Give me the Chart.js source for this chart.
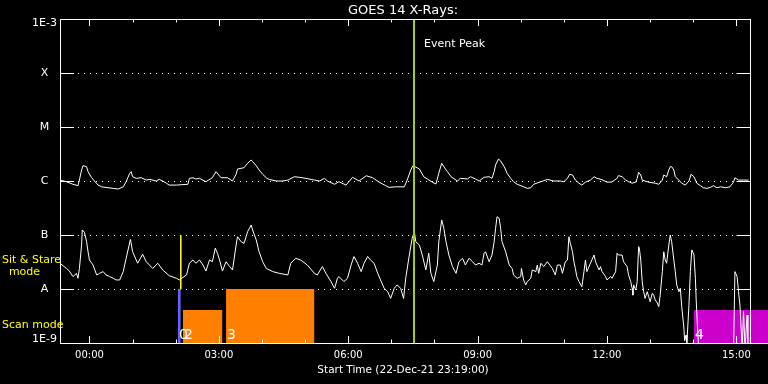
<!DOCTYPE html>
<html>
<head>
<meta charset="utf-8">
<title>GOES 14 X-Rays</title>
<script src="https://cdn.jsdelivr.net/npm/chart.js@4.4.1/dist/chart.umd.min.js"></script>
<style>
  html, body { margin: 0; padding: 0; background: #000; }
  canvas { display: block; }
</style>
</head>
<body>
<canvas id="xrayChart" width="768" height="384"></canvas>
<script>
// time axis is minutes after the start time (22-Dec-21 23:19:00)
const endMinute = 960;
const tickMinutes = [41, 221, 401, 581, 761, 941];
const tickLabels = ["00:00", "03:00", "06:00", "09:00", "12:00", "15:00"];

// flux levels on the left axis
const levelValues = [1e-9, 1e-8, 1e-7, 1e-6, 1e-5, 1e-4, 1e-3];
const levelLabels = ["1E-9", "A", "B", "C", "M", "X", "1E-3"];

// long channel (1-8 A), in units of 1e-6 W/m2 (C class)
const longMinutes = [
  0, 9, 18, 25, 27, 30, 32, 37, 39, 44,
  48, 53, 58, 64, 74, 81, 88, 92, 97, 99,
  101, 106, 113, 120, 125, 134, 138, 143, 148, 152,
  162, 178, 180, 185, 189, 194, 203, 212, 217, 224,
  233, 240, 245, 247, 256, 261, 266, 268, 273, 277,
  282, 287, 291, 301, 310, 317, 326, 333, 342, 354,
  361, 368, 372, 382, 388, 398, 402, 407, 416, 426,
  435, 444, 453, 458, 467, 479, 483, 488, 491, 500,
  506, 511, 518, 523, 527, 531, 534, 539, 544, 553,
  557, 567, 571, 578, 583, 590, 597, 601, 604, 606,
  610, 613, 618, 622, 627, 631, 636, 645, 650, 655,
  659, 669, 678, 687, 696, 701, 706, 709, 713, 717,
  722, 726, 731, 738, 743, 747, 754, 761, 768, 775,
  777, 782, 787, 791, 796, 801, 803, 805, 808, 810,
  819, 828, 833, 838, 840, 844, 847, 849, 851, 854,
  856, 861, 865, 870, 875, 878, 882, 886, 891, 895,
  900, 905, 909, 914, 919, 926, 932, 937, 939, 944,
  951, 958
];
const longFlux = [
  1.04, 0.97, 0.87, 0.82, 1.04, 1.60, 1.92, 1.84, 1.49, 1.15,
  1.00, 0.84, 0.78, 0.76, 0.73, 0.71, 0.78, 0.97, 1.39, 1.49,
  1.20, 1.12, 1.15, 1.04, 1.07, 1.00, 1.07, 1.00, 0.91, 0.84,
  0.84, 0.87, 1.12, 1.15, 1.09, 1.12, 0.97, 1.15, 1.49, 1.15,
  1.15, 1.00, 1.33, 1.67, 1.76, 2.13, 2.45, 2.28, 1.92, 1.60,
  1.33, 1.15, 1.07, 1.00, 1.00, 1.04, 1.20, 1.17, 1.12, 1.04,
  1.00, 1.12, 1.00, 0.87, 0.97, 0.84, 0.97, 1.17, 1.00, 1.25,
  1.15, 0.95, 0.82, 0.76, 0.78, 0.78, 1.04, 1.60, 1.92, 1.67,
  1.20, 1.09, 0.95, 0.88, 1.39, 2.13, 1.84, 1.49, 1.20, 1.00,
  1.12, 1.09, 1.20, 1.09, 1.00, 1.17, 1.20, 1.12, 1.49, 1.98,
  2.55, 2.35, 1.84, 1.39, 1.12, 0.97, 0.87, 0.78, 0.73, 0.75,
  0.87, 0.97, 1.07, 1.00, 1.00, 0.97, 1.12, 1.33, 1.29, 1.04,
  0.91, 0.84, 0.95, 1.04, 1.20, 1.12, 1.06, 0.95, 0.96, 1.12,
  1.26, 1.20, 1.04, 0.97, 0.91, 0.95, 1.12, 1.45, 1.29, 1.04,
  0.95, 0.91, 0.87, 1.04, 1.29, 1.20, 1.60, 1.84, 1.84, 1.60,
  1.20, 1.04, 0.91, 0.84, 1.00, 1.33, 1.20, 0.91, 0.82, 0.75,
  0.73, 0.76, 0.82, 0.75, 0.78, 0.75, 0.78, 0.95, 1.15, 1.04,
  1.04, 1.04
];

// short channel (0.5-4 A), in units of 1e-7 W/m2 (B class)
const shortMinutes = [
  0, 9, 13, 18, 23, 25, 27, 30, 31, 34,
  37, 39, 41, 46, 51, 55, 60, 64, 69, 74,
  78, 83, 88, 92, 98, 101, 108, 115, 120, 129,
  136, 143, 152, 162, 166, 176, 180, 185, 189, 194,
  199, 203, 208, 212, 216, 219, 222, 226, 231, 236,
  240, 245, 247, 252, 256, 261, 266, 268, 273, 277,
  282, 287, 296, 305, 317, 321, 328, 335, 344, 354,
  358, 365, 370, 377, 382, 386, 388, 395, 400, 405,
  409, 414, 419, 423, 428, 432, 437, 442, 446, 451,
  456, 460, 465, 469, 474, 478, 481, 486, 490, 493,
  495, 500, 504, 509, 513, 516, 520, 525, 527, 531,
  534, 537, 541, 546, 551, 555, 560, 564, 569, 574,
  578, 583, 587, 590, 592, 597, 601, 604, 606, 608,
  611, 613, 615, 620, 625, 629, 631, 636, 641, 642,
  645, 648, 650, 655, 657, 662, 664, 666, 669, 673,
  678, 685, 689, 692, 696, 699, 703, 706, 708, 710,
  713, 715, 717, 719, 722, 726, 729, 731, 733, 738,
  743, 745, 750, 752, 754, 759, 761, 766, 768, 773,
  775, 777, 782, 784, 789, 791, 794, 796, 797, 798,
  801, 803, 805, 806, 808, 810, 812, 814, 817, 819,
  821, 824, 826, 828, 831, 833, 835, 838, 840, 842,
  844, 847, 849, 851, 854, 856, 858, 861, 863, 865,
  868, 869, 871, 872, 875, 877, 879, 882, 884, 885,
  887, 889, 910, 937, 939, 942, 944, 946, 949, 951,
  953, 956, 957
];
const shortFlux = [
  0.30, 0.24, 0.215, 0.17, 0.195, 0.158, 0.24, 0.65, 1.24, 1.12,
  0.75, 0.49, 0.344, 0.278, 0.182, 0.195, 0.21, 0.182, 0.17, 0.158,
  0.147, 0.147, 0.21, 0.37, 0.83, 0.49, 0.30, 0.44, 0.32, 0.24,
  0.30, 0.225, 0.176, 0.158, 0.147, 0.182, 0.30, 0.344, 0.30, 0.344,
  0.278, 0.215, 0.344, 0.32, 0.57, 0.46, 0.344, 0.215, 0.32, 0.26,
  0.225, 0.65, 0.93, 0.75, 0.70, 1.15, 1.53, 1.24, 0.81, 0.49,
  0.32, 0.24, 0.21, 0.195, 0.182, 0.30, 0.37, 0.344, 0.278, 0.195,
  0.182, 0.26, 0.195, 0.137, 0.103, 0.158, 0.17, 0.137, 0.158, 0.278,
  0.40, 0.30, 0.21, 0.30, 0.40, 0.344, 0.30, 0.195, 0.147, 0.103,
  0.089, 0.067, 0.103, 0.119, 0.103, 0.067, 0.158, 0.426, 0.87, 1.15,
  0.75, 0.65, 0.426, 0.225, 0.46, 0.195, 0.137, 0.278, 0.75, 1.90,
  1.33, 0.75, 0.426, 0.26, 0.195, 0.32, 0.37, 0.278, 0.37, 0.32,
  0.278, 0.30, 0.278, 0.46, 0.49, 0.32, 0.426, 0.75, 1.33, 2.18,
  2.04, 1.33, 0.75, 0.49, 0.278, 0.24, 0.182, 0.158, 0.17, 0.24,
  0.147, 0.119, 0.137, 0.158, 0.225, 0.21, 0.278, 0.195, 0.30, 0.26,
  0.32, 0.24, 0.182, 0.278, 0.278, 0.195, 0.32, 0.344, 0.93, 0.70,
  0.49, 0.32, 0.24, 0.17, 0.137, 0.11, 0.21, 0.344, 0.21, 0.30,
  0.426, 0.32, 0.225, 0.26, 0.21, 0.17, 0.147, 0.17, 0.158, 0.21,
  0.46, 0.426, 0.426, 0.32, 0.26, 0.182, 0.137, 0.103, 0.077, 0.119,
  0.096, 0.137, 0.61, 0.57, 0.344, 0.137, 0.089, 0.067, 0.089, 0.072,
  0.058, 0.083, 0.077, 0.063, 0.055, 0.047, 0.077, 0.21, 0.49, 0.344,
  0.30, 0.65, 1.00, 0.75, 0.344, 0.21, 0.119, 0.089, 0.103, 0.047,
  0.019, 0.011, 0.014, 0.009, 0.05, 0.21, 0.53, 0.426, 0.158, 0.067,
  0.019, 0.006, 0.005, 0.006, 0.21, 0.17, 0.089, 0.05, 0.008, 0.038,
  0.008, 0.033, 0.008
];

// observing mode boxes (start/end minute, top flux)
const boxStart = [164, 171, 231, 882];
const boxEnd = [168, 226, 354, 985];
const boxTop = [1e-8, 4.1e-9, 1e-8, 4.1e-9];
const boxLabels = ["0", "2", "3", "4"];
const boxColors = ["#6464ff", "#ff8000", "#ff8000", "#cc00cc"];

const eventMinute = 492.5;
const sitStareMinute = 168;

const C_UNIT = 1e-6;
const B_UNIT = 1e-7;

Chart.defaults.font.family = "DejaVu Sans";
Chart.defaults.color = "#fff";

const toPoints = (mins, vals, unit) => mins.map((m, i) => ({ x: m, y: vals[i] * unit }));

// box datasets: flat line filled down to the bottom of the axis
const boxSets = boxStart.map((s, i) => ({
  data: [{ x: s, y: boxTop[i] }, { x: boxEnd[i], y: boxTop[i] }],
  borderWidth: 0,
  backgroundColor: boxColors[i],
  fill: "start",
  pointRadius: 0
}));

// dotted level lines, drawn under the curves
const idlGrid = {
  id: "idlGrid",
  beforeDatasetsDraw(chart) {
    const { ctx, chartArea: { left }, scales: { x, y } } = chart;
    const right = Math.round(x.getPixelForValue(endMinute));
    ctx.save();
    ctx.strokeStyle = "#fff";
    ctx.lineWidth = 1;
    ctx.setLineDash([1, 5]);
    ctx.beginPath();
    levelValues.slice(1, -1).forEach(v => {
      const py = Math.round(y.getPixelForValue(v)) + 0.5;
      ctx.moveTo(left + 18, py);
      ctx.lineTo(right - 14, py);
    });
    ctx.stroke();
    ctx.restore();
  }
};

// IDL style frame: top/right edges and inward ticks
const idlFrame = {
  id: "idlFrame",
  afterDatasetsDraw(chart) {
    const { ctx, chartArea: { left, top, bottom }, scales: { x, y } } = chart;
    const rx = Math.round(x.getPixelForValue(endMinute)) + 0.5;
    ctx.save();
    ctx.strokeStyle = "#fff";
    ctx.lineWidth = 1;
    ctx.beginPath();
    ctx.moveTo(left, top + 0.5);
    ctx.lineTo(rx + 0.5, top + 0.5);
    ctx.moveTo(rx, top);
    ctx.lineTo(rx, bottom);
    for (let m = tickMinutes[0]; m <= endMinute; m += 60) {
      const px = Math.round(x.getPixelForValue(m)) + 0.5;
      const len = (m - tickMinutes[0]) % 180 === 0 ? 7 : 3.5;
      ctx.moveTo(px, bottom);
      ctx.lineTo(px, bottom - len);
      ctx.moveTo(px, top);
      ctx.lineTo(px, top + len);
    }
    levelValues.slice(1, -1).forEach(v => {
      const py = Math.round(y.getPixelForValue(v)) + 0.5;
      ctx.moveTo(left, py);
      ctx.lineTo(left + 14, py);
      ctx.moveTo(rx - 14, py);
      ctx.lineTo(rx, py);
    });
    ctx.stroke();
    ctx.restore();
  }
};

const idlText = {
  id: "idlText",
  afterDraw(chart) {
    const { ctx, chartArea: { left, top, bottom }, scales: { x } } = chart;
    const mid = (left + x.getPixelForValue(endMinute)) / 2 - 2;
    ctx.save();
    ctx.textBaseline = "alphabetic";
    ctx.fillStyle = "#fff";
    ctx.textAlign = "center";
    ctx.font = '13px "DejaVu Sans"';
    ctx.fillText("GOES 14 X-Rays:", mid, top - 5);
    ctx.font = '10.5px "DejaVu Sans"';
    ctx.fillText("Start Time (22-Dec-21 23:19:00)", mid, bottom + 30);

    ctx.textAlign = "left";
    ctx.font = '11px "DejaVu Sans"';
    ctx.fillText("Event Peak", x.getPixelForValue(eventMinute) + 10, top + 28);

    ctx.font = '14px "DejaVu Sans"';
    boxLabels.forEach((label, i) => {
      ctx.fillText(label, x.getPixelForValue(boxStart[i]) + 1, bottom - 4);
    });

    ctx.fillStyle = "#ffff00";
    ctx.font = '11px "DejaVu Sans"';
    ctx.fillText("Sit & Stare", 2, 263);
    ctx.fillText("Scan mode", 2, 328);
    ctx.textAlign = "center";
    ctx.fillText("mode", 24.5, 275);
    ctx.restore();
  }
};

new Chart(document.getElementById("xrayChart"), {
  type: "line",
  data: {
    datasets: [
      {
        data: [{ x: eventMinute, y: 1e-3 }, { x: eventMinute, y: 1e-9 }],
        borderColor: "#a0d010",
        borderWidth: 2,
        pointRadius: 0
      },
      {
        data: toPoints(longMinutes, longFlux, C_UNIT),
        borderColor: "#fff",
        borderWidth: 1,
        pointRadius: 0
      },
      {
        data: toPoints(shortMinutes, shortFlux, B_UNIT),
        borderColor: "#fff",
        borderWidth: 1,
        pointRadius: 0
      },
      {
        data: [{ x: sitStareMinute, y: 1e-7 }, { x: sitStareMinute, y: 1e-8 }],
        borderColor: "#ffff00",
        borderWidth: 1,
        pointRadius: 0
      },
      ...boxSets
    ]
  },
  options: {
    responsive: false,
    animation: false,
    devicePixelRatio: 1,
    layout: { padding: { top: 19, left: 0, right: 0, bottom: 0 } },
    plugins: {
      legend: { display: false },
      tooltip: { enabled: false },
      title: { display: false }
    },
    scales: {
      x: {
        type: "linear",
        min: 0,
        max: 985,
        z: 1,
        afterBuildTicks: s => { s.ticks = tickMinutes.map(v => ({ value: v })); },
        afterFit: s => { s.height = 41; },
        grid: { display: false, drawTicks: false },
        border: { color: "#fff", width: 1 },
        ticks: {
          color: "#fff",
          font: { size: 10 },
          padding: 6,
          maxRotation: 0,
          autoSkip: false,
          callback: v => tickLabels[tickMinutes.indexOf(v)]
        }
      },
      y: {
        type: "logarithmic",
        min: 1e-9,
        max: 1e-3,
        z: 1,
        afterBuildTicks: s => { s.ticks = levelValues.map(v => ({ value: v })); },
        afterFit: s => { s.width = 60; },
        grid: { display: false, drawTicks: false },
        border: { color: "#fff", width: 1 },
        ticks: {
          color: "#fff",
          font: { size: 11, lineHeight: 0.75 },
          padding: 3,
          crossAlign: "center",
          autoSkip: false,
          callback: v => {
            const i = Math.round(Math.log10(v)) + 9;
            if (i === levelLabels.length - 1) return ["", levelLabels[i]];
            if (i === 0) return [levelLabels[i], ""];
            return levelLabels[i];
          }
        }
      }
    }
  },
  plugins: [idlGrid, idlFrame, idlText]
});
</script>
</body>
</html>
